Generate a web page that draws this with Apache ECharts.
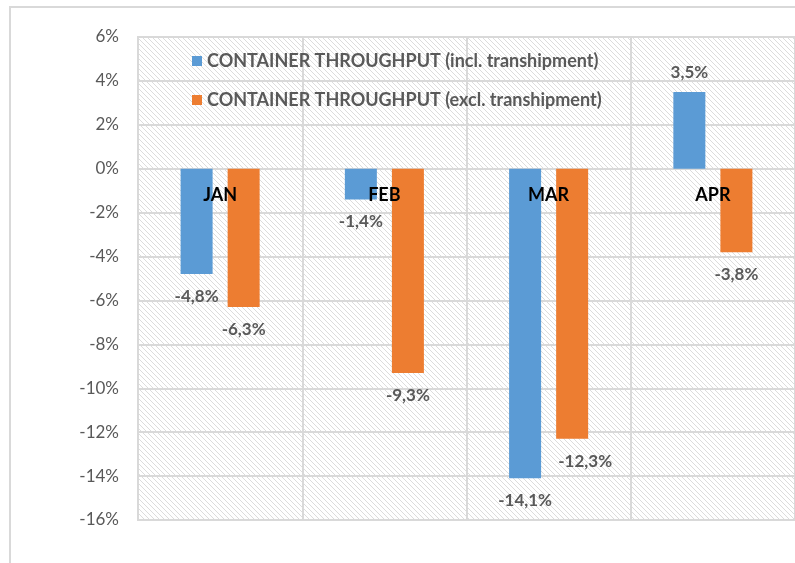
<!DOCTYPE html>
<html>
<head>
<meta charset="utf-8">
<script src="https://cdn.jsdelivr.net/npm/echarts@6/dist/echarts.min.js"></script>
<style>
  html, body { margin: 0; padding: 0; background: #fff; }
  #chart { width: 795px; height: 563px; }
</style>
</head>
<body>
<div id="chart"></div>
<script>
const months = ['JAN', 'FEB', 'MAR', 'APR'];
const inclTranship = [-4.8, -1.4, -14.1, 3.5];
const exclTranship = [-6.3, -9.3, -12.3, -3.8];
const seriesNames = ['CONTAINER THROUGHPUT (incl. transhipment)', 'CONTAINER THROUGHPUT (excl. transhipment)'];

const FONT = 'Lato, "Open Sans", sans-serif';
const Y_MIN = -16, Y_MAX = 6;
const GRID_TOP = 37, GRID_BOTTOM = 43, H = 563;

// hatched plot background, like the excel pattern fill
function hatch() {
    const c = document.createElement('canvas');
    c.width = 5; c.height = 5;
    const g = c.getContext('2d');
    g.fillStyle = '#fff';
    g.fillRect(0, 0, 5, 5);
    g.strokeStyle = '#dcdcdc';
    g.lineWidth = 1;
    g.beginPath();
    g.moveTo(-1, -1); g.lineTo(6, 6);
    g.moveTo(-1, 4); g.lineTo(1, 6);
    g.moveTo(4, -1); g.lineTo(6, 1);
    g.stroke();
    return c;
}

function pct(p) {
    return p.value.toFixed(1).replace('.', ',') + '%';
}

// nudges[i] = horizontal label shift for that bar (one label was dragged in the original)
function toItems(values, nudges) {
    return values.map((v, i) => ({
        value: v,
        label: {
            position: v < 0 ? 'bottom' : 'top',
            distance: v < 0 ? 14 : 11,
            offset: [(nudges && nudges[i]) || 0, 0]
        }
    }));
}

// category labels sit on the zero line (onZero doesn't move them here)
const plotH = H - GRID_TOP - GRID_BOTTOM;
const zeroOffset = -plotH * (0 - Y_MIN) / (Y_MAX - Y_MIN);

const chart = echarts.init(document.getElementById('chart'));

const barLabel = {
    show: true,
    formatter: pct,
    fontFamily: FONT,
    fontWeight: 'bold',
    fontSize: 17,
    color: '#595959'
};

chart.setOption({
    animation: false,
    graphic: [{
        type: 'rect',
        shape: { x: 10, y: 7, width: 800, height: 600 },
        style: { fill: 'none', stroke: '#d9d9d9', lineWidth: 2 },
        silent: true
    }],
    grid: {
        left: 138,
        top: GRID_TOP,
        width: 660,
        bottom: GRID_BOTTOM,
        show: true,
        backgroundColor: { image: hatch(), repeat: 'repeat' },
        borderColor: '#d9d9d9',
        borderWidth: 2
    },
    legend: {
        orient: 'vertical',
        left: 192,
        top: 51,
        padding: 0,
        itemWidth: 10,
        itemHeight: 10,
        itemGap: 19,
        icon: 'rect',
        textStyle: {
            fontFamily: FONT,
            fontWeight: 'bold',
            fontSize: 18,
            lineHeight: 20,
            color: '#595959'
        },
        data: seriesNames
    },
    xAxis: [{
        type: 'category',
        data: months,
        axisLine: { show: false, onZero: false },
        axisTick: { show: false },
        axisLabel: { show: false },
        splitLine: { show: true, lineStyle: { color: '#d9d9d9', width: 2 } }
    }, {
        type: 'category',
        data: months,
        position: 'bottom',
        offset: zeroOffset,
        z: 10,
        axisLine: { show: false, onZero: false },
        axisTick: { show: false },
        axisLabel: {
            margin: 17,
            fontFamily: FONT,
            fontWeight: 'bold',
            fontSize: 18,
            color: '#000'
        },
        splitLine: { show: false }
    }],
    yAxis: {
        type: 'value',
        min: Y_MIN,
        max: Y_MAX,
        interval: 2,
        axisLine: { show: false },
        axisTick: { show: false },
        axisLabel: {
            formatter: '{value}%',
            margin: 19,
            fontFamily: FONT,
            fontSize: 17,
            color: '#595959'
        },
        splitLine: { lineStyle: { color: '#d9d9d9', width: 2 } }
    },
    series: [
        {
            name: seriesNames[0],
            type: 'bar',
            data: toItems(inclTranship),
            barWidth: 32,
            barGap: '47%',
            itemStyle: { color: '#5b9bd5' },
            label: barLabel
        },
        {
            name: seriesNames[1],
            type: 'bar',
            data: toItems(exclTranship, [0, 0, 13, 0]),
            barWidth: 32,
            barGap: '47%',
            itemStyle: { color: '#ed7d31' },
            label: barLabel
        }
    ]
});

window.addEventListener('resize', function() {
    chart.resize();
});
</script>
</body>
</html>
